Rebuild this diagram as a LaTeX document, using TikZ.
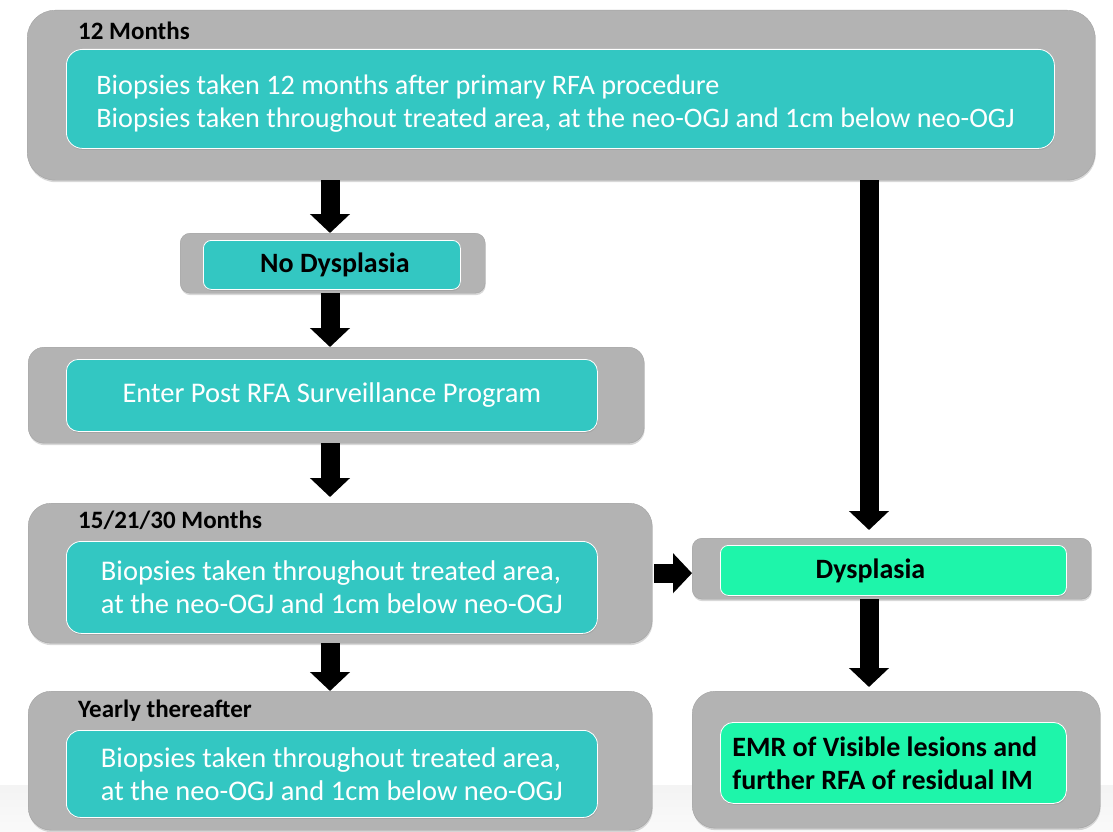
\documentclass[tikz,border=0pt]{standalone}
\usepackage{fontspec}
\setmainfont{Carlito}
\usepackage{tikz}
\usetikzlibrary{positioning}
\usetikzlibrary{arrows.meta}
\usetikzlibrary{shadows}

\definecolor{boxgray}{HTML}{B3B3B3}
\definecolor{boxline}{HTML}{A3A3A3}
\definecolor{tealbox}{HTML}{33C7C2}
\definecolor{greenbox}{HTML}{1EF5AA}

\begin{document}
\begin{tikzpicture}[x=1pt,y=-1pt]
\tikzset{outer/.style={rectangle, anchor=north west, draw=boxline, fill=boxgray, inner sep=0pt, drop shadow={shadow xshift=0.5pt,shadow yshift=-2pt,opacity=0.3}}}
\tikzset{inner/.style={rectangle, anchor=north west, draw=white, line width=0.8pt, fill=tealbox, text=white, inner sep=0pt, font=\fontsize{28.5}{33}\selectfont, drop shadow={shadow xshift=0.5pt,shadow yshift=-1.5pt,opacity=0.3}}}
\tikzset{decision/.style={text=black, font=\bfseries\fontsize{28}{33}\selectfont}}
\tikzset{heading/.style={anchor=base west, inner sep=0pt, font=\bfseries\fontsize{25}{29}\selectfont}}
\tikzset{flow/.style={line width=19pt, -{Triangle[width=39pt,length=19pt]}}}

\fill[white] (0,0) rectangle (1113,832);
\shade[top color=gray!9, bottom color=gray!4] (0,785) rectangle (1113,832);
\useasboundingbox (0,0) rectangle (1113,832);

% 12 months
\node[outer, rounded corners=28pt, minimum width=1068pt, minimum height=170pt] (twelve) at (27,10) {};
\node[heading] (twelvehead) at (78,40) {12 Months};
\node[inner, rounded corners=16pt, minimum width=988pt, minimum height=99pt, text width=928pt, align=flush left, font=\fontsize{28.2}{33}\selectfont] (twelvebox) at (66,49) {\rule{0pt}{30pt}\mbox{Biopsies taken 12 months after primary RFA procedure}\\\mbox{Biopsies taken throughout treated area, at the neo-OGJ and 1cm below neo-OGJ}};

% left column
\node[outer, rounded corners=10pt, minimum width=305pt, minimum height=60pt] (nodysp) at (180,233) {};
\node[inner, decision, rounded corners=8pt, minimum width=257pt, minimum height=49pt] (nodyspbox) at (203,240) {\hspace*{6pt}No Dysplasia};

\node[outer, rounded corners=16pt, minimum width=616pt, minimum height=96pt] (enter) at (28,347) {};
\node[inner, rounded corners=12pt, minimum width=531pt, minimum height=72pt] (enterbox) at (66,359) {Enter Post RFA Surveillance Program};

\node[outer, rounded corners=23pt, minimum width=624pt, minimum height=140pt] (mid) at (28,503) {};
\node[heading] (midhead) at (78,528) {15/21/30 Months};
\node[inner, rounded corners=15pt, minimum width=531pt, minimum height=92pt, align=flush left] (midbox) at (66,541) {Biopsies taken throughout treated area,\\at the neo-OGJ and 1cm below neo-OGJ};

\node[outer, rounded corners=23pt, minimum width=624pt, minimum height=139pt] (yearly) at (28,691) {};
\node[heading] (yearlyhead) at (78,717) {Yearly thereafter};
\node[inner, rounded corners=14pt, minimum width=531pt, minimum height=87pt, align=flush left] (yearlybox) at (66,730) {Biopsies taken throughout treated area,\\at the neo-OGJ and 1cm below neo-OGJ};

% right column
\node[outer, rounded corners=10pt, minimum width=399pt, minimum height=61pt] (dysp) at (692,538) {};
\node[inner, decision, fill=greenbox, rounded corners=8pt, minimum width=346pt, minimum height=50pt] (dyspbox) at (720,545) {Dysplasia\hspace*{46pt}};

\node[outer, rounded corners=23pt, minimum width=408pt, minimum height=137pt] (emr) at (692,691) {};
\node[inner, decision, fill=greenbox, rounded corners=13pt, minimum width=346pt, minimum height=81pt, text width=322pt, align=flush left] (emrbox) at (720,722) {EMR of Visible lesions and\\further RFA of residual IM};

% arrows
\coordinate (leftcol) at (330,0);
\coordinate (rightcol) at (869,0);
\draw[flow] (leftcol |- twelve.south) -- (leftcol |- nodysp.north);
\draw[flow] (leftcol |- nodysp.south) -- (leftcol |- enter.north);
\draw[flow, shorten >=6pt] (leftcol |- enter.south) -- (leftcol |- mid.north);
\draw[flow] (leftcol |- mid.south) -- (leftcol |- yearly.north);
\draw[flow, shorten >=8pt] (rightcol |- twelve.south) -- (rightcol |- dysp.north);
\draw[flow, shorten >=4pt] (rightcol |- dysp.south) -- (rightcol |- emr.north);
\draw[flow, shorten <=2pt] (mid.east) -- (mid.east -| dysp.west);
\end{tikzpicture}
\end{document}
